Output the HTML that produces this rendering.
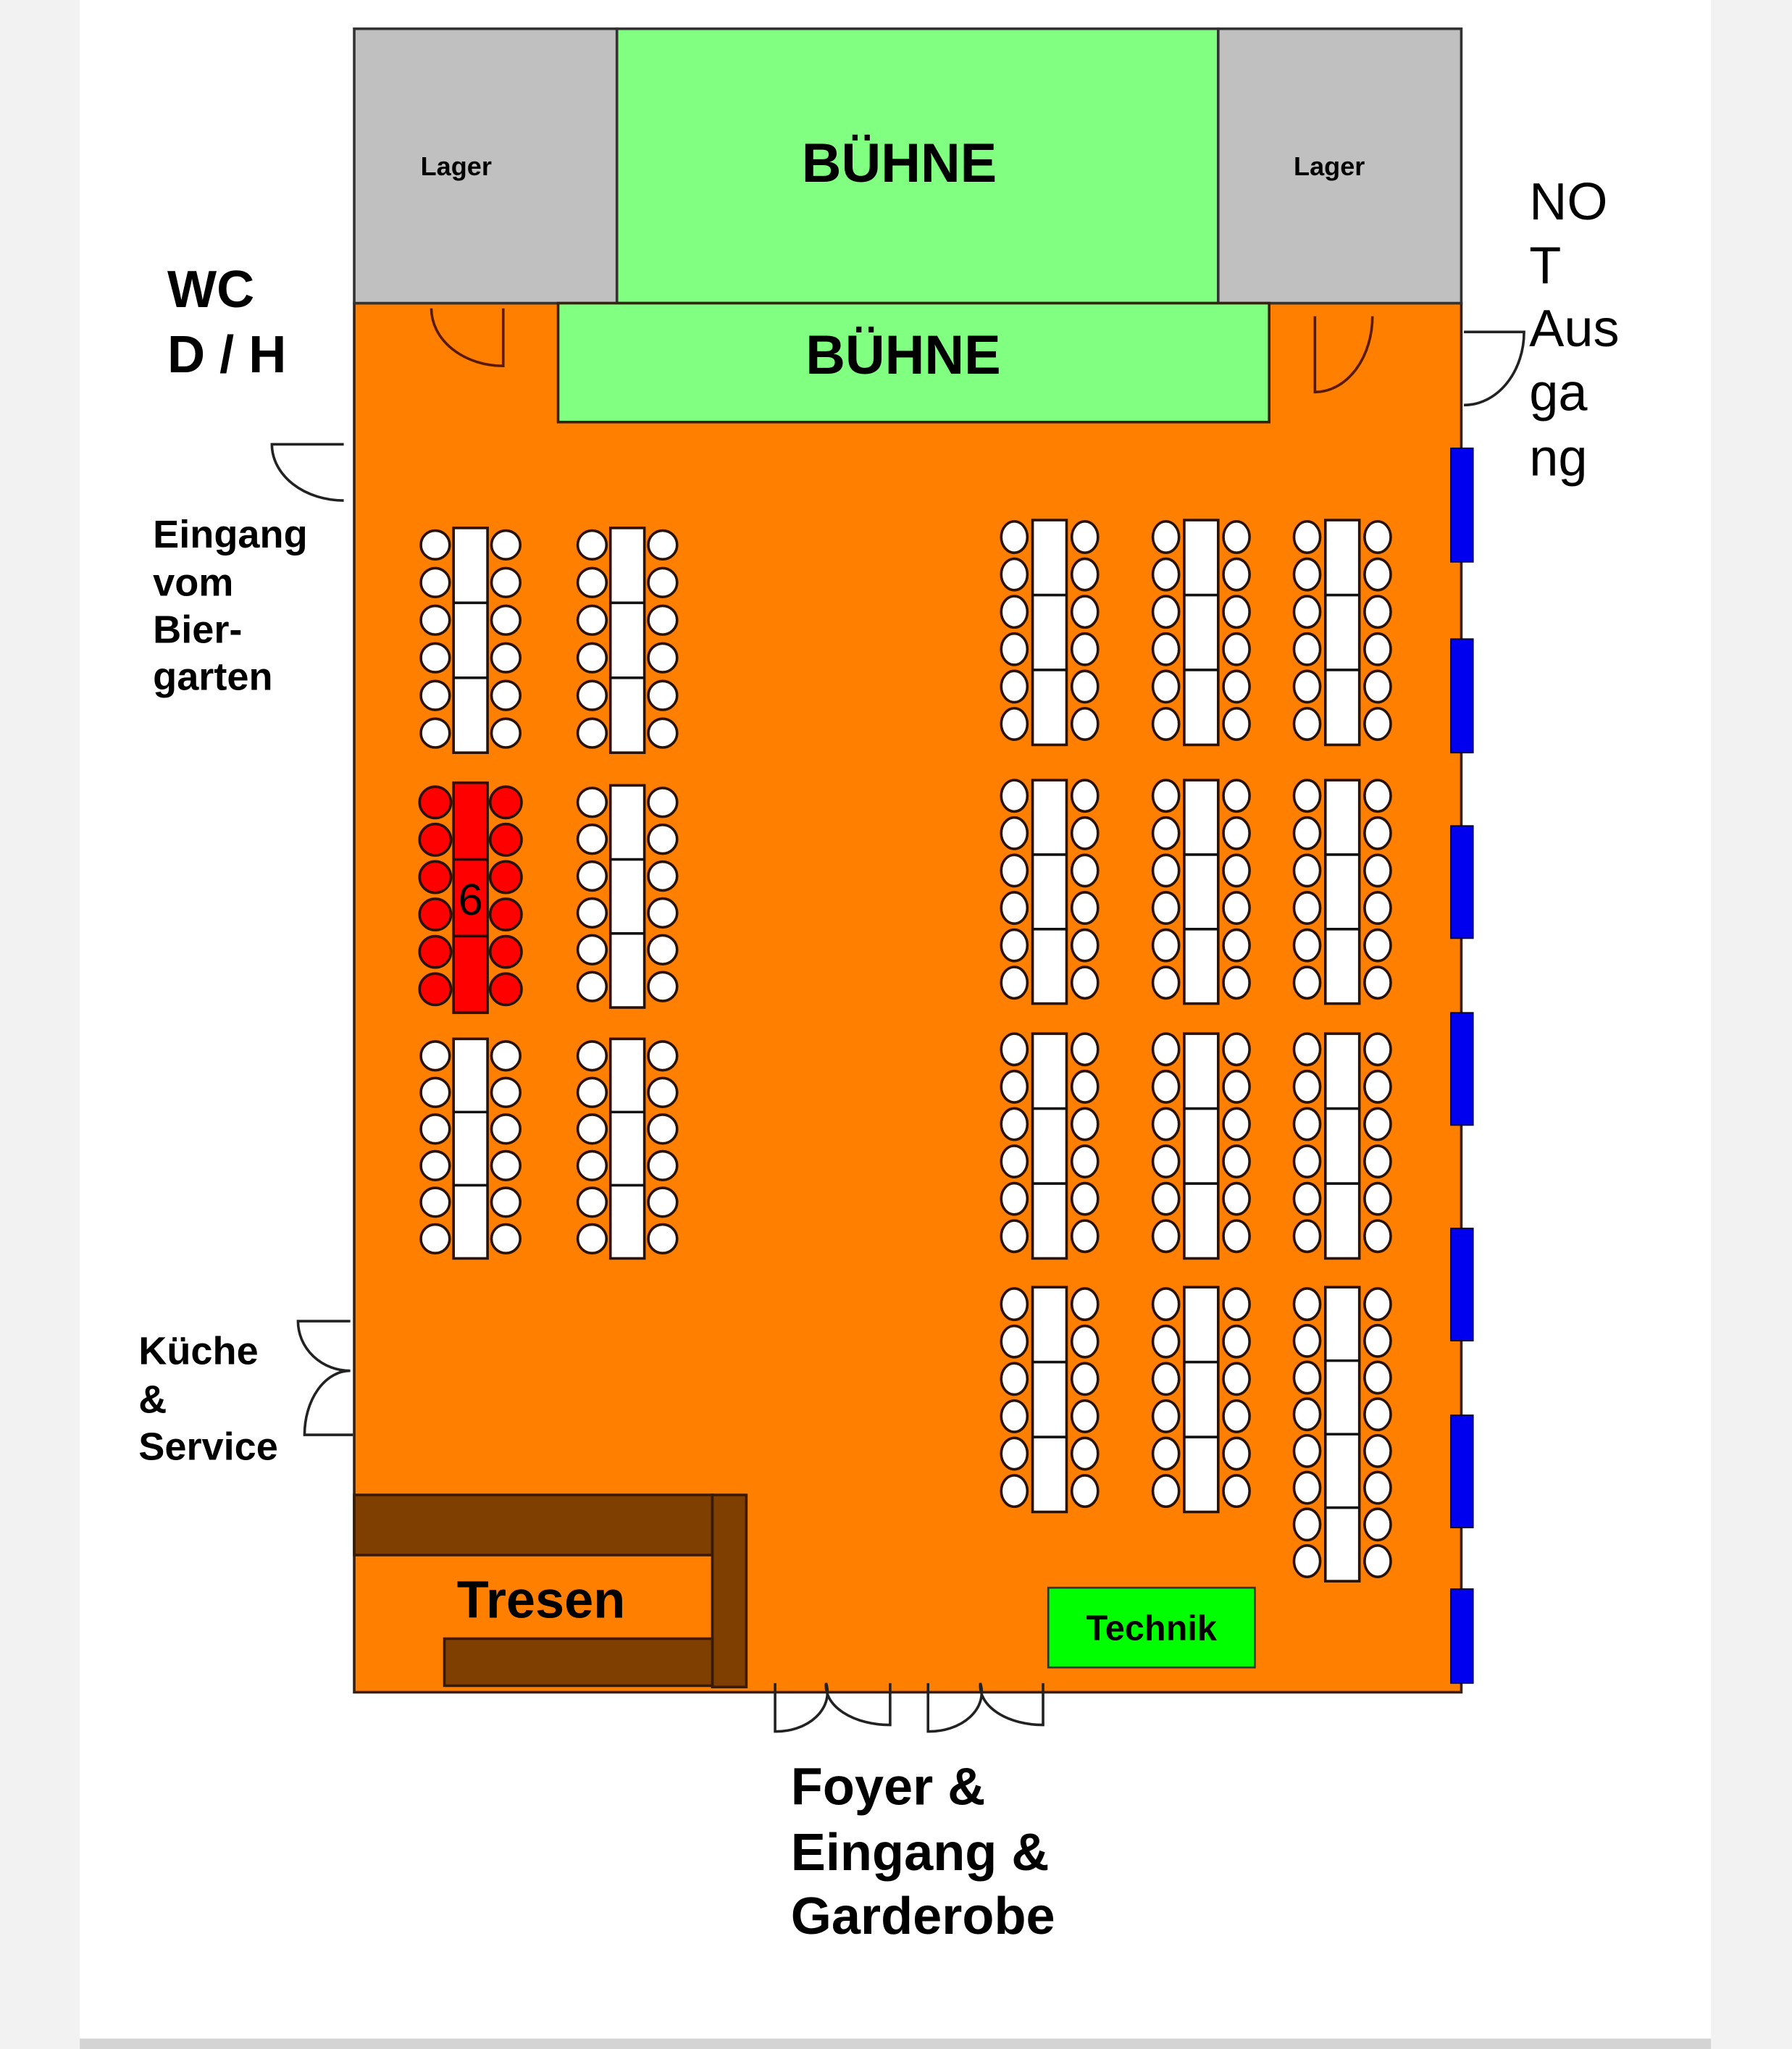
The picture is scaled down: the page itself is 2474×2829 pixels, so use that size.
<!DOCTYPE html>
<html><head><meta charset="utf-8"><style>
html,body{margin:0;padding:0;background:#f2f2f2}
svg{display:block}
text{font-family:"Liberation Sans",sans-serif}
</style></head><body>
<svg id="s" width="2474" height="2829" viewBox="0 0 1371 1568" preserveAspectRatio="none" xmlns="http://www.w3.org/2000/svg">
<rect x="0" y="0" width="1371" height="1568" fill="#f2f2f2"/>
<rect x="61" y="0" width="1248" height="1560" fill="#ffffff"/>
<rect x="61" y="1560" width="1248" height="8" fill="#d4d4d4"/>
<!-- room -->
<rect x="271" y="232" width="847" height="1063" fill="#FF8000" stroke="#3a2010" stroke-width="2"/>
<rect x="271" y="22" width="201" height="210" fill="#C0C0C0" stroke="#333" stroke-width="2"/>
<rect x="472" y="22" width="460" height="210" fill="#80FF80" stroke="#333" stroke-width="2"/>
<rect x="932" y="22" width="186" height="210" fill="#C0C0C0" stroke="#333" stroke-width="2"/>
<rect x="427" y="232" width="544" height="91" fill="#80FF80" stroke="#3a2010" stroke-width="2"/>
<text x="349" y="134" font-size="20" font-weight="bold" text-anchor="middle">Lager</text>
<text x="1017" y="134" font-size="20" font-weight="bold" text-anchor="middle">Lager</text>
<text x="688" y="139" font-size="42" font-weight="bold" text-anchor="middle">BÜHNE</text>
<text x="691" y="286" font-size="42" font-weight="bold" text-anchor="middle">BÜHNE</text>
<!-- windows -->
<g fill="#0000EE" stroke="#000033" stroke-width="1">
<rect x="1110" y="343" width="17" height="87"/><rect x="1110" y="489" width="17" height="87"/>
<rect x="1110" y="632" width="17" height="86"/><rect x="1110" y="775" width="17" height="86"/>
<rect x="1110" y="940" width="17" height="86"/><rect x="1110" y="1083" width="17" height="86"/>
<rect x="1110" y="1216" width="17" height="72"/>
</g>
<!-- doors -->
<g fill="none" stroke="#222" stroke-width="2">
<path d="M385 236 L385 280 A55 44 0 0 1 330 236" stroke="#5a1a00"/>
<path d="M1006 242 L1006 300 A44 58 0 0 0 1050 242" stroke="#5a1a00"/>
<path d="M1120 254 L1166 254 A46 56 0 0 1 1120 310"/>
<path d="M263 340 L208 340 A55 43 0 0 0 263 383"/>
<path d="M268 1011 L228 1011 A40 38 0 0 0 268 1049 A35 49 0 0 0 233 1098 L270 1098"/>
<path d="M593 1288 L593 1325 A39 30 0 0 0 632 1288 A49 30 0 0 0 681 1320 L681 1288"/>
<path d="M710 1288 L710 1325 A40 30 0 0 0 750 1288 A48 30 0 0 0 798 1320 L798 1288"/>
</g>
<!-- tresen -->
<g fill="#7F3F00" stroke="#3a1a00" stroke-width="2">
<rect x="271" y="1144" width="274" height="46"/>
<rect x="545" y="1144" width="26" height="147"/>
<rect x="340" y="1254" width="205" height="36"/>
</g>
<text x="414" y="1238" font-size="40" font-weight="bold" text-anchor="middle">Tresen</text>
<rect x="802" y="1215" width="158" height="61" fill="#00FF00" stroke="#333" stroke-width="1.5"/>
<text x="881" y="1255" font-size="27" font-weight="bold" text-anchor="middle">Technik</text>
<g id="tables"></g>
<!-- labels -->
<g font-weight="bold" font-size="40">
<text x="128" y="235">WC</text><text x="128" y="285">D / H</text>
<text x="605" y="1381">Foyer &amp;</text><text x="605" y="1431">Eingang &amp;</text><text x="605" y="1480">Garderobe</text>
</g>
<g font-weight="bold" font-size="30">
<text x="117" y="419">Eingang</text><text x="117" y="456">vom</text><text x="117" y="492">Bier-</text><text x="117" y="528">garten</text>
<text x="106" y="1044">Küche</text><text x="106" y="1081">&amp;</text><text x="106" y="1117">Service</text>
</g>
<g font-size="40">
<text x="1170" y="168">NO</text><text x="1170" y="217">T</text><text x="1170" y="265">Aus</text><text x="1170" y="314">ga</text><text x="1170" y="364">ng</text>
</g>
<text id="six" x="360" y="700" font-size="34" text-anchor="middle">6</text>
</svg>
<script>
var g=document.getElementById('tables'),ns='http://www.w3.org/2000/svg',h='';
function T(cx,y0,y1,n,rx,ry,dx,fill,first,step){
  var tx=cx-13;
  h+='<rect x="'+tx+'" y="'+y0+'" width="26" height="'+(y1-y0)+'" fill="'+fill+'" stroke="#2a1208" stroke-width="2"/>';
  var seg=(y1-y0)/3;
  if(n==8)seg=(y1-y0)/4;
  for(var k=1;k<(n==8?4:3);k++){var yy=y0+seg*k;h+='<line x1="'+tx+'" x2="'+(tx+26)+'" y1="'+yy+'" y2="'+yy+'" stroke="#111" stroke-width="2"/>';}
  for(var i=0;i<n;i++){var cy=first+i*step;
    h+='<ellipse cx="'+(cx-dx)+'" cy="'+cy+'" rx="'+rx+'" ry="'+ry+'" fill="'+fill+'" stroke="#2a1208" stroke-width="2"/>';
    h+='<ellipse cx="'+(cx+dx)+'" cy="'+cy+'" rx="'+rx+'" ry="'+ry+'" fill="'+fill+'" stroke="#2a1208" stroke-width="2"/>';}
}
// left
T(360,404,576,6,11,11,27,'#fff',417,28.8);
T(480,404,576,6,11,11,27,'#fff',417,28.8);
T(360,599,775,6,12,12,27,'#ff0000',614,28.6);
T(480,601,771,6,11,11,27,'#fff',614,28.2);
T(360,795,963,6,11,11,27,'#fff',808,28);
T(480,795,963,6,11,11,27,'#fff',808,28);
// right
var cols=[803,919,1027];
var rows=[[398,570,411],[597,768,609],[791,963,803],[985,1157,998]];
for(var c=0;c<3;c++)for(var r=0;r<4;r++){
  if(c==2&&r==3){T(1027,985,1210,8,10,12,27,'#fff',998,28.1);continue;}
  T(cols[c],rows[r][0],rows[r][1],6,10,12,27,'#fff',rows[r][2],28.6);
}
g.innerHTML=h;
</script>
</body></html>
